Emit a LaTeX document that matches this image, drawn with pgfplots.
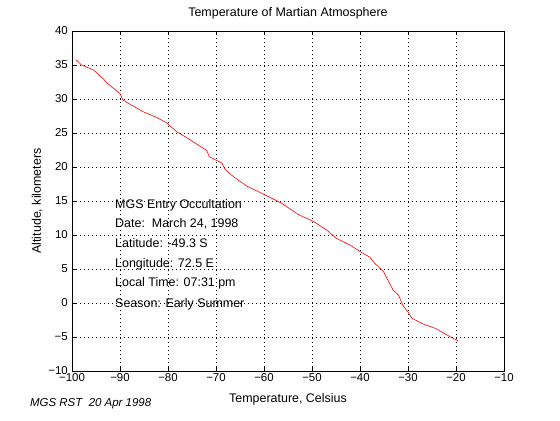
\documentclass[border=0pt]{standalone}
\usepackage{pgfplots}
\pgfplotsset{compat=1.18}
\usepackage{fontspec}
\setmainfont{Liberation Sans}
\begin{document}
\begin{tikzpicture}[x=1bp,y=1bp]
\path[use as bounding box] (0,0) rectangle (560,420);
\begin{axis}[
  at={(72bp,49bp)}, anchor=south west,
  scale only axis, width=432bp, height=340bp,
  xmin=-100, xmax=-10, ymin=-10, ymax=40,
  xtick={-100,-90,...,-10},
  xticklabels={−100,−90,−80,−70,−60,−50,−40,−30,−20,−10},
  ytick={-10,-5,...,40},
  yticklabels={\raisebox{2bp}{−10},−5,0,5,10,15,20,25,30,35,40},
  tick align=inside, major tick length=4bp,
  tick style={black, line width=0.6bp},
  axis line style={black, line width=0.6bp},
  grid=major,
  grid style={black, line width=0.6bp, dash pattern=on 1bp off 3bp},
  tick label style={font=\fontsize{11.5}{13}\selectfont, inner sep=0pt},
  xticklabel style={yshift=-2.5bp},
  yticklabel style={xshift=-4bp},
  title={Temperature of Martian Atmosphere},
  title style={font=\fontsize{12.5}{14}\selectfont, at={(axis description cs:0.5,1)}, anchor=base, inner sep=0pt, yshift=9bp},
  xlabel={Temperature, Celsius},
  ylabel={Altitude, kilometers},
  label style={font=\fontsize{12.5}{14}\selectfont, inner sep=0pt},
  xlabel style={at={(axis description cs:0.5,-0.0912)}, anchor=base},
  ylabel style={at={(axis description cs:-0.0718,0.5)}, anchor=base},
  clip=false,
]
\addplot[red, line width=0.6bp] coordinates {
(-99.2,35.8) (-98.0,35.0) (-95.6,34.3) (-93.5,33.0) (-92.8,32.4)
(-91.4,31.6) (-90.0,30.8) (-89.4,29.85) (-87.6,29.1) (-85.1,28.1)
(-82.4,27.3) (-80.3,26.5) (-78.2,25.2) (-75.4,24.0) (-71.9,22.4)
(-71.4,21.5) (-68.8,20.6) (-68.1,19.65) (-66.4,18.6) (-63.6,17.2)
(-60.1,16.0) (-56.3,14.66) (-52.8,13.0) (-49.7,12.0) (-46.9,10.7)
(-44.9,9.5) (-42.1,8.53) (-39.6,7.4) (-37.9,6.72) (-36.9,5.8)
(-35.1,4.6) (-33.1,1.9) (-32.0,1.18) (-31.0,-0.44) (-29.9,-1.4)
(-29.2,-2.25) (-26.8,-3.1) (-24.4,-3.7) (-22.6,-4.4) (-21.25,-4.95)
(-19.5,-5.6)
};
\begin{scope}[every node/.style={anchor=base west, inner sep=0pt, font=\fontsize{12.5}{14}\selectfont}]
\node at (axis cs:-91.04,13.93) {MGS Entry Occultation};
\node at (axis cs:-91.04,11.13) {Date:\ \ March 24, 1998};
\node at (axis cs:-91.04,8.19) {Latitude: -49.3 S};
\node at (axis cs:-91.04,5.25) {Longitude: 72.5 E};
\node at (axis cs:-91.04,2.40) {Local Time: 07:31 pm};
\node at (axis cs:-91.04,-0.63) {Season: Early Summer};
\end{scope}
\end{axis}
\node[anchor=base west, inner sep=0pt, font=\fontsize{11.5}{13}\selectfont\itshape] at (30,13.5) {MGS RST\ \ 20 Apr 1998};
\end{tikzpicture}
\end{document}
